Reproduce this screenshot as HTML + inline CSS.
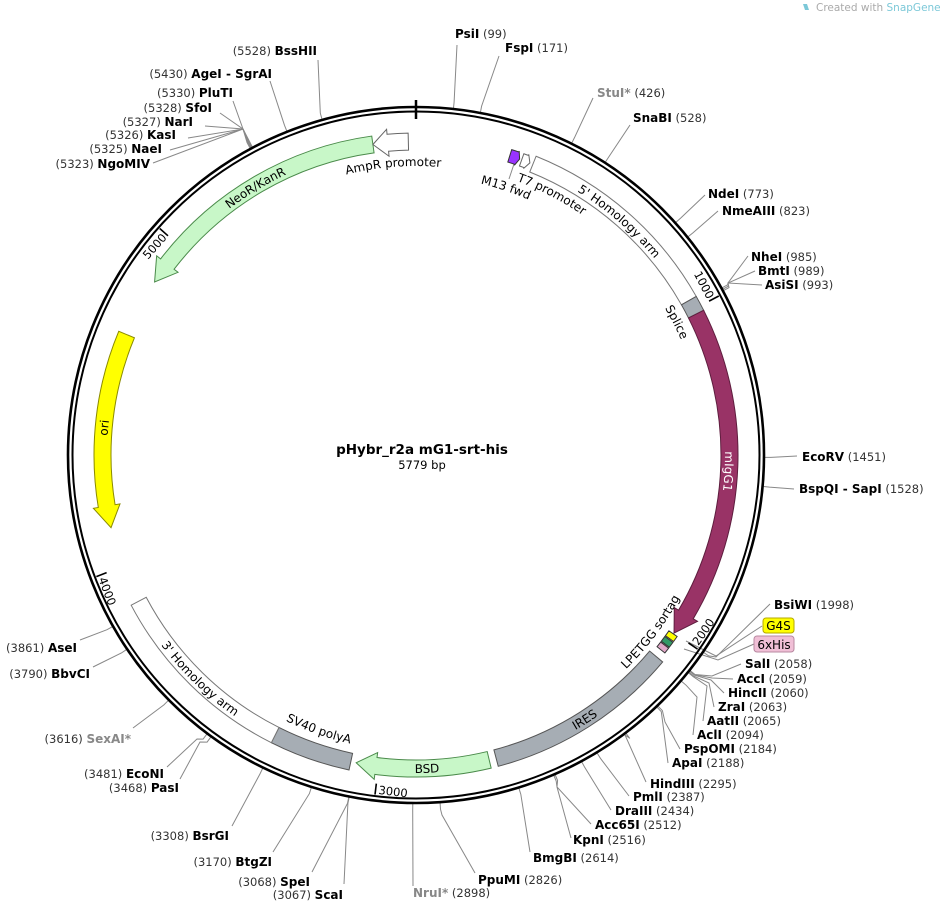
<!DOCTYPE html>
<html><head><meta charset="utf-8"><style>
html,body{margin:0;padding:0;background:#fff;}
svg{display:block;font-family:"DejaVu Sans","Liberation Sans",sans-serif;}
.b{font-weight:bold;font-size:12px;fill:#000;}
.n{font-size:11.5px;fill:#333;}
.g{font-weight:bold;font-size:12px;fill:#888;}
.f{font-size:12px;fill:#000;}
.tk{font-size:11.5px;fill:#000;}
.ln{stroke:#888;stroke-width:1;fill:none;}
</style></head><body>
<svg id="s" width="940" height="903" viewBox="0 0 940 903" xmlns="http://www.w3.org/2000/svg">
<defs>
<path id="pAmp"/><path id="pNeo"/><path id="pOri"/><path id="p5h"/><path id="pSpl"/><path id="pIgg"/>
<path id="pLpe"/><path id="pIres"/><path id="pBsd"/><path id="pSv"/><path id="p3h"/><path id="pT7"/><path id="pM13"/>
</defs>
<g id="lines"></g>
<g id="feat"></g>
<circle cx="416" cy="455" r="348" fill="none" stroke="#000" stroke-width="2.6"/>
<circle cx="416" cy="455" r="343.5" fill="none" stroke="#000" stroke-width="2"/>
<line x1="416" y1="100" x2="416" y2="119" stroke="#000" stroke-width="2.5"/>
<g id="ticks"></g>
<text id="t1000" class="tk">1000</text>
<text id="t2000" class="tk">2000</text>
<text id="t3000" class="tk">3000</text>
<text id="t4000" class="tk">4000</text>
<text id="t5000" class="tk">5000</text>

<text class="f"><textPath href="#pAmp" startOffset="50%" text-anchor="middle">AmpR promoter</textPath></text>
<text class="f"><textPath href="#pNeo" startOffset="50%" text-anchor="middle">NeoR/KanR</textPath></text>
<text class="f"><textPath href="#pOri" startOffset="50%" text-anchor="middle">ori</textPath></text>
<text class="f"><textPath href="#p5h" startOffset="50%" text-anchor="middle">5' Homology arm</textPath></text>
<text class="f"><textPath href="#pSpl" startOffset="50%" text-anchor="middle">Splice</textPath></text>
<text class="f" style="fill:#fff"><textPath href="#pIgg" startOffset="50%" text-anchor="middle">mIgG1</textPath></text>
<text class="f"><textPath href="#pLpe" startOffset="50%" text-anchor="middle">LPETGG sortag</textPath></text>
<text class="f"><textPath href="#pIres" startOffset="50%" text-anchor="middle">IRES</textPath></text>
<text class="f"><textPath href="#pBsd" startOffset="50%" text-anchor="middle">BSD</textPath></text>
<text class="f"><textPath href="#pSv" startOffset="50%" text-anchor="middle">SV40 polyA</textPath></text>
<text class="f"><textPath href="#p3h" startOffset="50%" text-anchor="middle">3' Homology arm</textPath></text>
<text class="f"><textPath href="#pT7" startOffset="50%" text-anchor="middle">T7 promoter</textPath></text>
<text class="f"><textPath href="#pM13" startOffset="50%" text-anchor="middle">M13 fwd</textPath></text>

<text x="422" y="454" text-anchor="middle" style="font-weight:bold;font-size:13.5px">pHybr_r2a mG1-srt-his</text>
<text x="422" y="469" text-anchor="middle" style="font-size:11.5px">5779 bp</text>

<path d="M803 4 l4 0 l2 6 l-4 0 z" fill="#7cc8d8"/>
<text x="816" y="11" style="font-size:10.5px;fill:#aaa">Created with <tspan style="fill:#7cc8d8">SnapGene®</tspan></text>

<text x="455" y="38"><tspan class="b">PsiI</tspan><tspan class="n">  (99)</tspan></text>
<text x="505" y="52"><tspan class="b">FspI</tspan><tspan class="n">  (171)</tspan></text>
<text x="597" y="97"><tspan class="g">StuI*</tspan><tspan class="n">  (426)</tspan></text>
<text x="633" y="122"><tspan class="b">SnaBI</tspan><tspan class="n">  (528)</tspan></text>
<text x="708" y="198"><tspan class="b">NdeI</tspan><tspan class="n">  (773)</tspan></text>
<text x="722" y="215"><tspan class="b">NmeAIII</tspan><tspan class="n">  (823)</tspan></text>
<text x="751" y="261"><tspan class="b">NheI</tspan><tspan class="n">  (985)</tspan></text>
<text x="758" y="275"><tspan class="b">BmtI</tspan><tspan class="n">  (989)</tspan></text>
<text x="765" y="289"><tspan class="b">AsiSI</tspan><tspan class="n">  (993)</tspan></text>
<text x="802" y="461"><tspan class="b">EcoRV</tspan><tspan class="n">  (1451)</tspan></text>
<text x="799" y="493"><tspan class="b">BspQI - SapI</tspan><tspan class="n">  (1528)</tspan></text>
<text x="774" y="609"><tspan class="b">BsiWI</tspan><tspan class="n">  (1998)</tspan></text>
<rect x="763" y="618" width="31" height="15" rx="3" fill="#ffff00" stroke="#b5a800"/>
<text x="778.5" y="630" text-anchor="middle" style="font-size:12px">G4S</text>
<rect x="754" y="636" width="40" height="16" rx="3" fill="#f0bfd6" stroke="#b888a0"/>
<text x="774" y="649" text-anchor="middle" style="font-size:12px">6xHis</text>
<text x="745" y="668"><tspan class="b">SalI</tspan><tspan class="n">  (2058)</tspan></text>
<text x="737" y="683"><tspan class="b">AccI</tspan><tspan class="n">  (2059)</tspan></text>
<text x="728" y="697"><tspan class="b">HincII</tspan><tspan class="n">  (2060)</tspan></text>
<text x="718" y="711"><tspan class="b">ZraI</tspan><tspan class="n">  (2063)</tspan></text>
<text x="707" y="725"><tspan class="b">AatII</tspan><tspan class="n">  (2065)</tspan></text>
<text x="697" y="739"><tspan class="b">AclI</tspan><tspan class="n">  (2094)</tspan></text>
<text x="684" y="753"><tspan class="b">PspOMI</tspan><tspan class="n">  (2184)</tspan></text>
<text x="672" y="767"><tspan class="b">ApaI</tspan><tspan class="n">  (2188)</tspan></text>
<text x="650" y="788"><tspan class="b">HindIII</tspan><tspan class="n">  (2295)</tspan></text>
<text x="633" y="801"><tspan class="b">PmlI</tspan><tspan class="n">  (2387)</tspan></text>
<text x="615" y="815"><tspan class="b">DraIII</tspan><tspan class="n">  (2434)</tspan></text>
<text x="595" y="829"><tspan class="b">Acc65I</tspan><tspan class="n">  (2512)</tspan></text>
<text x="573" y="844"><tspan class="b">KpnI</tspan><tspan class="n">  (2516)</tspan></text>
<text x="533" y="862"><tspan class="b">BmgBI</tspan><tspan class="n">  (2614)</tspan></text>
<text x="478" y="884"><tspan class="b">PpuMI</tspan><tspan class="n">  (2826)</tspan></text>
<text x="413" y="897"><tspan class="g">NruI*</tspan><tspan class="n">  (2898)</tspan></text>

<text x="343" y="899" text-anchor="end"><tspan class="n">(3067)  </tspan><tspan class="b">ScaI</tspan></text>
<text x="310" y="886" text-anchor="end"><tspan class="n">(3068)  </tspan><tspan class="b">SpeI</tspan></text>
<text x="272" y="866" text-anchor="end"><tspan class="n">(3170)  </tspan><tspan class="b">BtgZI</tspan></text>
<text x="229" y="840" text-anchor="end"><tspan class="n">(3308)  </tspan><tspan class="b">BsrGI</tspan></text>
<text x="179" y="792" text-anchor="end"><tspan class="n">(3468)  </tspan><tspan class="b">PasI</tspan></text>
<text x="164" y="778" text-anchor="end"><tspan class="n">(3481)  </tspan><tspan class="b">EcoNI</tspan></text>
<text x="131" y="743" text-anchor="end"><tspan class="n">(3616)  </tspan><tspan class="g">SexAI*</tspan></text>
<text x="90" y="678" text-anchor="end"><tspan class="n">(3790)  </tspan><tspan class="b">BbvCI</tspan></text>
<text x="77" y="652" text-anchor="end"><tspan class="n">(3861)  </tspan><tspan class="b">AseI</tspan></text>
<text x="150" y="168" text-anchor="end"><tspan class="n">(5323)  </tspan><tspan class="b">NgoMIV</tspan></text>
<text x="162" y="153" text-anchor="end"><tspan class="n">(5325)  </tspan><tspan class="b">NaeI</tspan></text>
<text x="176" y="139" text-anchor="end"><tspan class="n">(5326)  </tspan><tspan class="b">KasI</tspan></text>
<text x="193" y="126" text-anchor="end"><tspan class="n">(5327)  </tspan><tspan class="b">NarI</tspan></text>
<text x="212" y="112" text-anchor="end"><tspan class="n">(5328)  </tspan><tspan class="b">SfoI</tspan></text>
<text x="233" y="97" text-anchor="end"><tspan class="n">(5330)  </tspan><tspan class="b">PluTI</tspan></text>
<text x="272" y="78" text-anchor="end"><tspan class="n">(5430)  </tspan><tspan class="b">AgeI - SgrAI</tspan></text>
<text x="317" y="55" text-anchor="end"><tspan class="n">(5528)  </tspan><tspan class="b">BssHII</tspan></text>
</svg>
<script>
(function(){
const NS="http://www.w3.org/2000/svg",cx=416,cy=455,L=5779;
const A=bp=>bp/L*360;
function P(r,a){const t=a*Math.PI/180;return [cx+r*Math.sin(t),cy-r*Math.cos(t)];}
function f(p){return p[0].toFixed(2)+" "+p[1].toFixed(2);}
function arcTo(r,a1,a2){const p=P(r,a2);const lg=Math.abs(a2-a1)>180?1:0;const sw=a2>a1?1:0;return ` A${r} ${r} 0 ${lg} ${sw} ${f(p)}`;}
function el(tag,attrs,parent){const e=document.createElementNS(NS,tag);for(const k in attrs)e.setAttribute(k,attrs[k]);parent.appendChild(e);return e;}
const feat=document.getElementById('feat'),lines=document.getElementById('lines'),ticks=document.getElementById('ticks');
const RI=305,RO=322;
function band(a1,a2,fill,stroke,ri=RI,ro=RO){
 const d="M"+f(P(ro,a1))+arcTo(ro,a1,a2)+" L"+f(P(ri,a2))+arcTo(ri,a2,a1)+" Z";
 el('path',{d:d,fill:fill,stroke:stroke,'stroke-width':1},feat);}
function arrow(a1,a2,dir,head,fill,stroke,ri=RI,ro=RO,ext=5){
 const m=(ri+ro)/2,hd=head/m*180/Math.PI;let d;
 if(dir>0){const b=a2-hd;
  d="M"+f(P(ro,a1))+arcTo(ro,a1,b)+" L"+f(P(ro+ext,b))+" L"+f(P(m,a2))+" L"+f(P(ri-ext,b))+" L"+f(P(ri,b))+arcTo(ri,b,a1)+" Z";}
 else{const b=a1+hd;
  d="M"+f(P(ro,a2))+arcTo(ro,a2,b)+" L"+f(P(ro+ext,b))+" L"+f(P(m,a1))+" L"+f(P(ri-ext,b))+" L"+f(P(ri,b))+arcTo(ri,b,a2)+" Z";}
 el('path',{d:d,fill:fill,stroke:stroke,'stroke-width':1},feat);}
const GR="#a6adb4",GRS="#555",GN="#c8f7c8",GNS="#4a8a4a";
arrow(-56.5,-7.9,-1,22,GN,GNS);
arrow(-7.9,-1.4,-1,15,"#fff","#666");
arrow(-103.4,-67.4,-1,22,"#ffff00","#8a8a00");
band(21.9,60.5,"#fff","#777");
band(60.5,63.3,GR,GRS);
arrow(63.3,124.6,1,22,"#993366","#5e1d3e");
band(124.8,125.9,"#ffff00","#333",308,318);
band(126.1,127.2,"#339966","#333",308,318);
band(127.4,128.5,"#e0a8c8","#333",308,318);
band(130,165.2,GR,GRS);
arrow(166.5,191,1,20,GN,GNS);
band(192,206.7,GR,GRS);
band(206.7,242.2,"#fff","#777");
arrow(17.4,19.3,1,3,"#9933ff","#333",307,320,1);
arrow(19.7,21.3,1,4,"#fff","#666",307,320,1);
function cwp(id,r,c){document.getElementById(id).setAttribute('d',"M"+f(P(r,c-60))+arcTo(r,c-60,c+60));}
function ccwp(id,r,c){document.getElementById(id).setAttribute('d',"M"+f(P(r,c+60))+arcTo(r,c+60,c-60));}
cwp('pAmp',289,-4.5);cwp('pNeo',309,-31);cwp('pOri',309,-85);cwp('p5h',309,41);cwp('pSpl',289,63);
cwp('pIgg',309,93);cwp('pT7',292,27.5);cwp('pM13',279,18.6);
ccwp('pLpe',300,127);ccwp('pIres',318,147.5);ccwp('pBsd',318,178);ccwp('pSv',296,199.5);ccwp('p3h',318,224);
[1000,2000,3000,4000,5000].forEach(k=>{const a=A(k);
 el('line',{x1:P(331,a)[0],y1:P(331,a)[1],x2:P(342,a)[0],y2:P(342,a)[1],stroke:'#000','stroke-width':1.6},ticks);
 const t=document.getElementById('t'+k);
 if(a<90||a>270){const p=P(330,a);t.setAttribute('transform',`translate(${f(p).replace(' ',',')}) rotate(${a})`);t.setAttribute('x',-2);t.setAttribute('text-anchor','end');}
 else{const p=P(341,a);t.setAttribute('transform',`translate(${f(p).replace(' ',',')}) rotate(${a-180})`);t.setAttribute('x',3);t.setAttribute('y',0);}
});
const C=[[99,457,45],[171,499,56],[426,593,98],[528,630,125],[773,705,195],[823,718,211],
[985,748,256,[728,283]],[989,755,271,[728,283]],[993,762,285,[728,283]],
[1451,797,456],[1528,794,489],[1998,770,604,[716,657]],
[2058,741,664,[712,676]],[2059,733,679,[712,678]],[2060,724,693,[711,680]],[2063,714,707,[709,683]],[2065,703,721,[707,686]],
[2094,693,735,[697,697]],[2184,680,749,[665,722]],[2188,668,763],[2295,646,782,[625,735]],[2387,629,796],[2434,611,810],
[2512,591,824,[557,787]],[2516,571,838,[557,787]],[2614,530,852],[2826,475,873,[442,815]],[2898,413,886],
[3067,344,884],[3068,312,872],[3170,273,852],[3308,232,826],[3468,180,779,[200,742]],[3481,167,767,[197,739]],
[3616,133,728],[3790,93,667],[3861,80,640],
[5323,153,163,[243,129]],[5325,170,150,[243,129]],[5326,188,138,[243,129]],[5327,205,126,[243,129]],[5328,220,113,[243,129]],[5330,233,101,[243,129]],
[5430,270,81],[5528,318,60]];
C.forEach(c=>{const a=A(c[0]);const p0=P(349,a),p1=P(355,a);let pts=[p0,p1];if(c[3])pts.push(c[3]);pts.push([c[1],c[2]]);
 el('polyline',{points:pts.map(p=>p[0].toFixed(1)+","+p[1].toFixed(1)).join(" "),class:'ln'},lines);});
[[[686,641],[716,656],[762,626]],[[684,649],[718,660],[754,644]],[[514,164],[509,179]]].forEach(pts=>{
 el('polyline',{points:pts.map(p=>p.join(",")).join(" "),class:'ln'},lines);});
})();
</script>
</body></html>
